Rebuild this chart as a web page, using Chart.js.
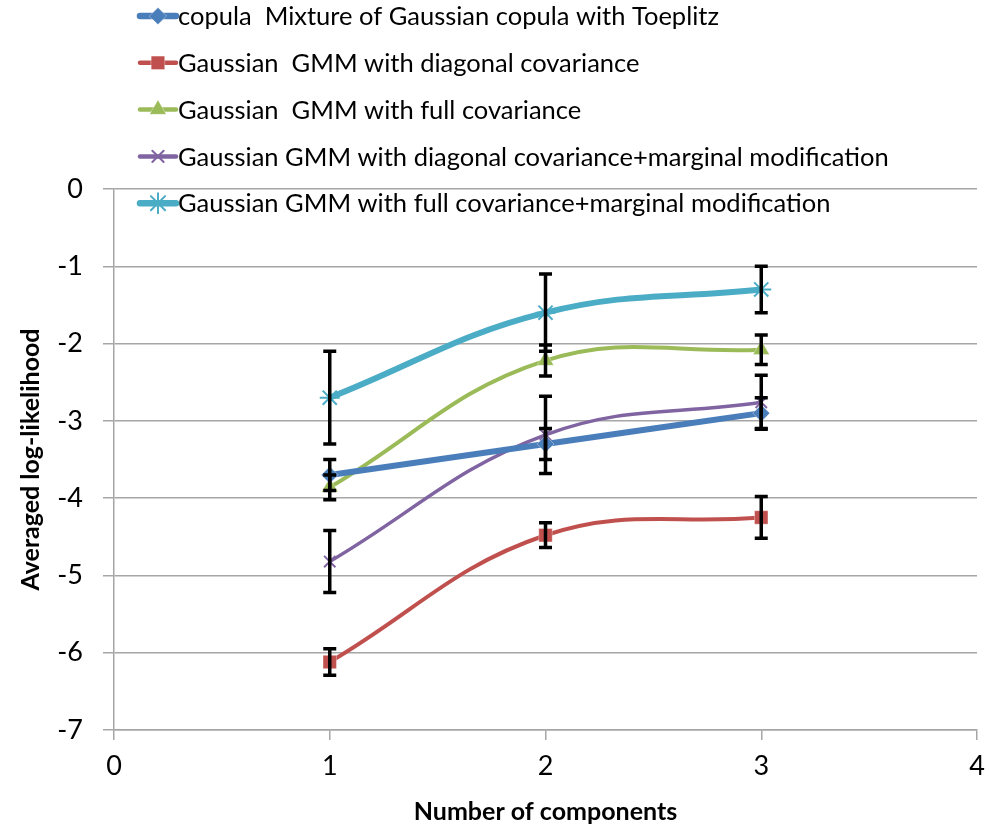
<!DOCTYPE html>
<html>
<head>
<meta charset="utf-8">
<script src="https://cdn.jsdelivr.net/npm/chart.js@4"></script>
<style>
  html, body { margin: 0; padding: 0; background: #ffffff; overflow: hidden; }
  #wrap { width: 989px; height: 834px; position: relative; }
  #c { display: block; }
</style>
</head>
<body>
<div id="wrap"><canvas id="c"></canvas></div>
<script>
// Number of mixture components on the x axis
const components = [1, 2, 3];

// Series labels, in legend order
const seriesLabels = [
  'copula  Mixture of Gaussian copula with Toeplitz',
  'Gaussian  GMM with diagonal covariance',
  'Gaussian  GMM with full covariance',
  'Gaussian GMM with diagonal covariance+marginal modification',
  'Gaussian GMM with full covariance+marginal modification'
];

// Averaged log-likelihood and its error half-widths per series
const copulaToeplitz = [-3.70, -3.30, -2.90];
const copulaToeplitzErr = [0.20, 0.20, 0.20];

const gmmDiagonal = [-6.12, -4.48, -4.25];
const gmmDiagonalErr = [0.17, 0.16, 0.27];

const gmmFull = [-3.86, -2.22, -2.08];
const gmmFullErr = [0.16, 0.20, 0.19];

const gmmDiagonalMarginal = [-4.82, -3.18, -2.76];
const gmmDiagonalMarginalErr = [0.40, 0.50, 0.35];

const gmmFullMarginal = [-2.70, -1.60, -1.30];
const gmmFullMarginalErr = [0.60, 0.50, 0.30];

// Axis ticks
const xTicks = [0, 1, 2, 3, 4];
const yTicks = [0, -1, -2, -3, -4, -5, -6, -7];

const FONT = 'Lato, "Open Sans", "DejaVu Sans", sans-serif';
const GRID = '#a6a6a6';

function points(values) {
  return components.map((x, i) => ({ x: x, y: values[i] }));
}

function series(label, values, errors, color, style, radius, width, legendWidth) {
  const stroked = style === 'crossRot' || style === 'star';
  return {
    label: label,
    data: points(values),
    errors: errors,
    borderColor: color,
    backgroundColor: color,
    pointBackgroundColor: color,
    pointBorderColor: stroked ? color : 'rgba(255,255,255,0.35)',
    pointBorderWidth: stroked ? 2 : 1,
    pointStyle: style,
    pointRadius: radius,
    pointHoverRadius: radius,
    borderWidth: width,
    legendWidth: legendWidth,
    tension: 0.4,
    fill: false
  };
}

const datasets = [
  series(seriesLabels[0], copulaToeplitz, copulaToeplitzErr, '#4a7ebb', 'rectRot', 8.5, 6, 6.5),
  series(seriesLabels[1], gmmDiagonal, gmmDiagonalErr, '#c0504d', 'rect', 9.5, 4, 4.5),
  series(seriesLabels[2], gmmFull, gmmFullErr, '#9bbb59', 'triangle', 9.5, 4, 4.5),
  series(seriesLabels[3], gmmDiagonalMarginal, gmmDiagonalMarginalErr, '#8064a2', 'crossRot', 8, 3.5, 4.5),
  series(seriesLabels[4], gmmFullMarginal, gmmFullMarginalErr, '#4bacc6', 'star', 10, 6, 6.5)
];

// Black capped error bars at each point
const errorBars = {
  id: 'errorBars',
  afterDatasetsDraw(chart) {
    const ctx = chart.ctx;
    const xs = chart.scales.x, ys = chart.scales.y;
    ctx.save();
    ctx.strokeStyle = '#000000';
    ctx.lineWidth = 3.5;
    ctx.lineCap = 'butt';
    chart.data.datasets.forEach(ds => {
      ds.data.forEach((p, i) => {
        const e = ds.errors[i];
        const px = xs.getPixelForValue(p.x);
        const top = ys.getPixelForValue(p.y + e);
        const bot = ys.getPixelForValue(p.y - e);
        ctx.beginPath();
        ctx.moveTo(px, top); ctx.lineTo(px, bot);
        ctx.moveTo(px - 6.5, top); ctx.lineTo(px + 6.5, top);
        ctx.moveTo(px - 6.5, bot); ctx.lineTo(px + 6.5, bot);
        ctx.stroke();
      });
    });
    ctx.restore();
  }
};

// Vertical legend in the upper-left corner, overlapping the plot top
const sideLegend = {
  id: 'sideLegend',
  afterDraw(chart) {
    const ctx = chart.ctx;
    ctx.save();
    ctx.font = '25.5px ' + FONT;
    ctx.textBaseline = 'middle';
    ctx.textAlign = 'left';
    chart.data.datasets.forEach((ds, i) => {
      const y = 16 + i * 46.8;
      ctx.strokeStyle = ds.borderColor;
      ctx.lineWidth = ds.legendWidth;
      ctx.lineCap = 'round';
      ctx.beginPath();
      ctx.moveTo(140, y); ctx.lineTo(176, y);
      ctx.stroke();
      ctx.fillStyle = ds.pointBackgroundColor;
      ctx.strokeStyle = ds.pointBorderColor;
      ctx.lineWidth = ds.pointBorderWidth;
      Chart.helpers.drawPoint(ctx, {
        pointStyle: ds.pointStyle,
        radius: ds.pointRadius,
        borderWidth: ds.pointBorderWidth,
        rotation: 0
      }, 158, y);
      ctx.fillStyle = '#000000';
      ctx.fillText(ds.label, 178, y + 1);
    });
    ctx.restore();
  }
};

new Chart(document.getElementById('c'), {
  type: 'line',
  data: { datasets: datasets },
  options: {
    responsive: true,
    maintainAspectRatio: false,
    animation: false,
    events: [],
    layout: { padding: { left: 0, right: 10, top: 189, bottom: 0 } },
    plugins: {
      legend: { display: false },
      tooltip: { enabled: false }
    },
    scales: {
      x: {
        type: 'linear',
        min: 0,
        max: 4,
        afterFit(scale) {
          scale.height = 104;
          scale.paddingLeft = 0;
          scale.paddingRight = 0;
        },
        afterBuildTicks(scale) { scale.ticks = xTicks.map(v => ({ value: v })); },
        ticks: {
          color: '#000000',
          font: { family: FONT, size: 27 },
          padding: 10
        },
        grid: {
          drawOnChartArea: false,
          drawTicks: true,
          tickLength: 10,
          color: GRID,
          lineWidth: 1.5
        },
        border: { display: true, color: GRID, width: 1.5 },
        title: {
          display: true,
          text: 'Number of components',
          color: '#000000',
          font: { family: FONT, size: 25, weight: 'bold' },
          padding: { top: 0, bottom: 7 }
        }
      },
      y: {
        type: 'linear',
        min: -7,
        max: 0,
        afterFit(scale) {
          scale.width = 114;
          scale.paddingTop = 0;
          scale.paddingBottom = 0;
        },
        afterBuildTicks(scale) { scale.ticks = yTicks.map(v => ({ value: v })); },
        ticks: {
          color: '#000000',
          font: { family: FONT, size: 27 },
          padding: 20
        },
        grid: {
          drawTicks: true,
          tickLength: 11,
          color: GRID,
          lineWidth: 1.5
        },
        border: { display: true, color: GRID, width: 1.5 },
        title: {
          display: true,
          text: 'Averaged log-likelihood',
          color: '#000000',
          font: { family: FONT, size: 25, weight: 'bold' },
          padding: { top: 16, bottom: 0 }
        }
      }
    }
  },
  plugins: [errorBars, sideLegend]
});
</script>
</body>
</html>
